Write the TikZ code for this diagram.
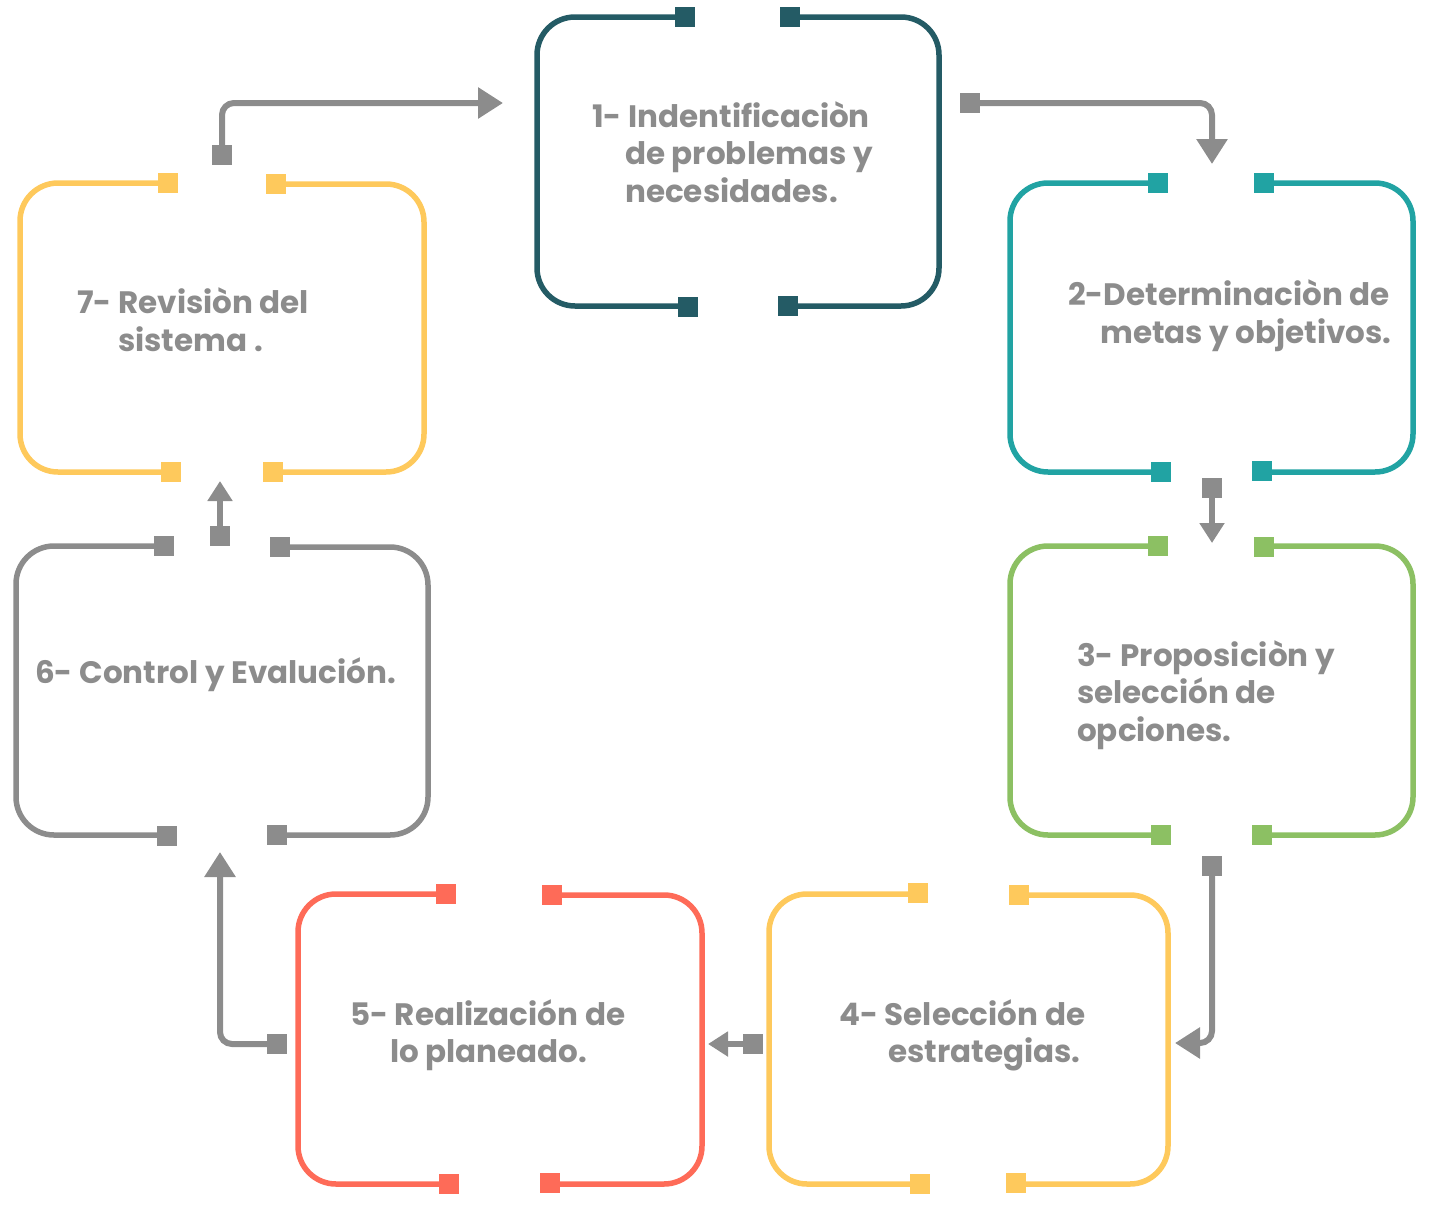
\documentclass[tikz,border=0pt]{standalone}
\usepackage{fontspec}
\setmainfont{Poppins}
\usetikzlibrary{arrows.meta}
\definecolor{cA}{HTML}{245B65}
\definecolor{cB}{HTML}{21A3A3}
\definecolor{cC}{HTML}{8CC063}
\definecolor{cY}{HTML}{FEC95C}
\definecolor{cR}{HTML}{FE6B58}
\definecolor{cG}{HTML}{8C8C8C}
\tikzset{
  sq/.style={rectangle, inner sep=0pt, minimum size=20pt, draw=none, fill=#1},
  frame/.style={draw=#1, line width=5.5pt, rounded corners=38pt},
  flow/.style={draw=cG, line width=6pt, rounded corners=12pt},
  bigtip/.style={-{Triangle[width=30pt,length=25pt]}},
  smalltip/.style={-{Triangle[width=24pt,length=20pt]}},
  lbl/.style={anchor=base west, inner sep=0pt, text=cG, font=\fontsize{31}{37}\selectfont\bfseries},
}
\begin{document}
\begin{tikzpicture}[x=1pt,y=-1pt]
\useasboundingbox (0,0) rectangle (1430,1210);
% ---------- Box 1
\draw[frame=cA] (685,17) -- (537,17) -- (537,306) -- (688,306);
\draw[frame=cA] (790,17) -- (939,17) -- (939,306) -- (788,306);
\node[sq=cA] (b1tl) at (685,17) {};
\node[sq=cA] (b1tr) at (790,17) {};
\node[sq=cA] (b1bl) at (688,307) {};
\node[sq=cA] (b1br) at (788,306) {};
% ---------- Box 2
\draw[frame=cB] (1158,183) -- (1010,183) -- (1010,472) -- (1161,472);
\draw[frame=cB] (1264,183) -- (1413,183) -- (1413,472) -- (1262,472);
\node[sq=cB] (b2tl) at (1158,183) {};
\node[sq=cB] (b2tr) at (1264,183) {};
\node[sq=cB] (b2bl) at (1161,472) {};
\node[sq=cB] (b2br) at (1262,471) {};
% ---------- Box 3
\draw[frame=cC] (1158,546) -- (1010,546) -- (1010,835) -- (1161,835);
\draw[frame=cC] (1264,546) -- (1413,546) -- (1413,835) -- (1262,835);
\node[sq=cC] (b3tl) at (1158,546) {};
\node[sq=cC] (b3tr) at (1264,547) {};
\node[sq=cC] (b3bl) at (1161,835) {};
\node[sq=cC] (b3br) at (1262,835) {};
% ---------- Box 4
\draw[frame=cY] (918,894) -- (769,894) -- (769,1184) -- (920,1184);
\draw[frame=cY] (1019,895) -- (1168,895) -- (1168,1184) -- (1016,1184);
\node[sq=cY] (b4tl) at (918,893) {};
\node[sq=cY] (b4tr) at (1019,895) {};
\node[sq=cY] (b4bl) at (920,1184) {};
\node[sq=cY] (b4br) at (1016,1183) {};
% ---------- Box 5
\draw[frame=cR] (446,894) -- (298,894) -- (298,1184) -- (449,1184);
\draw[frame=cR] (552,895) -- (702,895) -- (702,1184) -- (550,1184);
\node[sq=cR] (b5tl) at (446,894) {};
\node[sq=cR] (b5tr) at (552,895) {};
\node[sq=cR] (b5bl) at (449,1184) {};
\node[sq=cR] (b5br) at (550,1183) {};
% ---------- Box 6
\draw[frame=cG] (164,546) -- (16,546) -- (16,835) -- (167,835);
\draw[frame=cG] (280,547) -- (428,547) -- (428,835) -- (277,835);
\node[sq=cG] (b6tl) at (164,546) {};
\node[sq=cG] (b6tr) at (280,547) {};
\node[sq=cG] (b6bl) at (167,836) {};
\node[sq=cG] (b6br) at (277,835) {};
% ---------- Box 7
\draw[frame=cY] (168,183) -- (20,183) -- (20,472) -- (171,472);
\draw[frame=cY] (276,184) -- (424,184) -- (424,472) -- (273,472);
\node[sq=cY] (b7tl) at (168,183) {};
\node[sq=cY] (b7tr) at (276,184) {};
\node[sq=cY] (b7bl) at (171,472) {};
\node[sq=cY] (b7br) at (273,472) {};
% ---------- Connectors
\coordinate (e12) at (1212,164);
\coordinate (e23) at (1212,543);
\coordinate (e34) at (1175,1043);
\coordinate (e45) at (708,1044);
\coordinate (e56) at (220,852);
\coordinate (e67) at (220,481);
\coordinate (e71) at (503,103);
\node[sq=cG] (s12) at (970,103) {};
\node[sq=cG] (s23) at (1212,488) {};
\node[sq=cG] (s34) at (1212,866) {};
\node[sq=cG] (s45) at (753,1044) {};
\node[sq=cG] (s56) at (277,1044) {};
\node[sq=cG] (s67) at (220,536) {};
\node[sq=cG] (s71) at (222,155) {};
\draw[flow,bigtip] (s12.center) -| (e12);
\draw[flow,smalltip] (s23.center) -- (e23);
\draw[flow,bigtip] (s34.center) |- (e34);
\draw[flow,smalltip] (s45.center) -- (e45);
\draw[flow,bigtip] (s56.center) -| (e56);
\draw[flow,smalltip] (s67.center) -- (e67);
\draw[flow,bigtip] (s71.center) |- (e71);
\node[sq=cG] at (s12) {};
\node[sq=cG] at (s23) {};
\node[sq=cG] at (s34) {};
\node[sq=cG] at (s45) {};
\node[sq=cG] at (s56) {};
\node[sq=cG] at (s67) {};
\node[sq=cG] at (s71) {};
% ---------- Texts
\node[lbl] (t1a) at (592,127) {1- Indentificaciòn};
\node[lbl] (t1b) at (625,164) {de problemas y};
\node[lbl] (t1c) at (625,202) {necesidades.};
\node[lbl] (t2a) at (1068,305) {2-Determinaciòn de};
\node[lbl] (t2b) at (1100,343) {metas y objetivos.};
\node[lbl] (t3a) at (1077,666) {3- Proposiciòn y};
\node[lbl] (t3b) at (1077,703) {selección de};
\node[lbl] (t3c) at (1077,741) {opciones.};
\node[lbl] (t4a) at (839,1025) {4- Selección de};
\node[lbl] (t4b) at (888,1062) {estrategias.};
\node[lbl] (t5a) at (350,1025) {5- Realización de};
\node[lbl] (t5b) at (390,1062) {lo planeado.};
\node[lbl] (t6a) at (35,683) {6- Control y Evalución.};
\node[lbl] (t7a) at (77,313) {7- Revisiòn del};
\node[lbl] (t7b) at (118,351) {sistema .};
\end{tikzpicture}
\end{document}
